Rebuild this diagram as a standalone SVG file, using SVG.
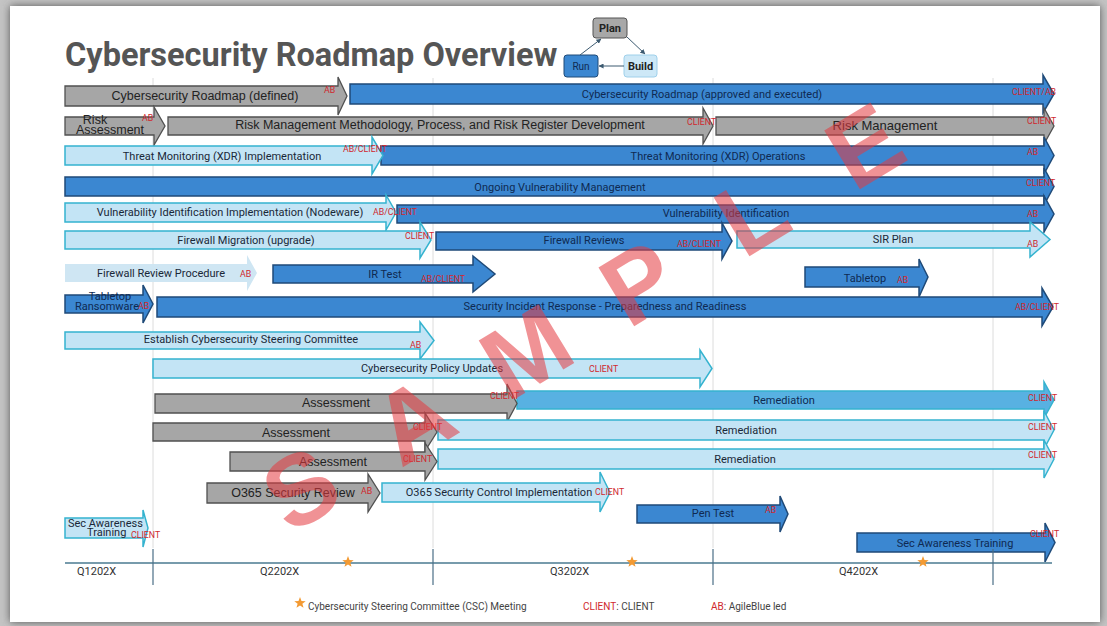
<svg xmlns="http://www.w3.org/2000/svg" width="1107" height="626" viewBox="0 0 1107 626">
<defs>
<filter id="sh" x="-5%" y="-5%" width="110%" height="110%"><feGaussianBlur stdDeviation="4"/></filter>
<marker id="ah" viewBox="0 0 6 6" refX="5.5" refY="3" markerWidth="5" markerHeight="5" orient="auto"><path d="M0 0L6 3L0 6Z" fill="#3c5a70"/></marker>
<path id="star" d="M0 -6L1.47 -2.02L5.71 -1.85L2.38 0.77L3.53 4.85L0 2.5L-3.53 4.85L-2.38 0.77L-5.71 -1.85L-1.47 -2.02Z" fill="#f39a33"/>
</defs>
<style>
.g{fill:#a6a6a6;stroke:#505050;stroke-width:1.3}
.d{fill:#3b87d1;stroke:#1f4a78;stroke-width:1.5}
.l{fill:#c3e4f5;stroke:#35b3cf;stroke-width:1.5}
.m{fill:#58b1e2;stroke:#35b3cf;stroke-width:1.5}
.p{fill:#cfe6f3}
.gt{font-family:"Liberation Sans",Arial,sans-serif;font-size:12.5px;fill:#222;text-anchor:middle}
.dt{font-family:Roboto,"Noto Sans",sans-serif;font-size:11px;fill:#0f2a52;text-anchor:middle}
.lt{font-family:Roboto,"Noto Sans",sans-serif;font-size:11px;fill:#1a2838;text-anchor:middle}
.r{font-family:Roboto,"Noto Sans",sans-serif;font-size:8.8px;fill:#d0282e}
.q{font-family:Roboto,"Noto Sans",sans-serif;font-size:11px;fill:#333}
.lg{font-family:Roboto,"Noto Sans",sans-serif;font-size:10px;fill:#444}
.grid{stroke:#dcdcdc;stroke-width:1}
.tick{stroke:#4a6e86;stroke-width:1.2}
</style>
<rect width="1107" height="626" fill="#c4c4c4"/>
<rect x="10" y="6" width="1090" height="616" fill="#555" filter="url(#sh)"/>
<rect x="10" y="6" width="1090" height="616" fill="#ffffff"/>

<text x="65" y="66" font-family="Roboto,'Noto Sans',sans-serif" font-weight="bold" font-size="32.5" fill="#555">Cybersecurity Roadmap Overview</text>

<g id="grid">
<line class="grid" x1="153" y1="78" x2="153" y2="548"/>
<line class="grid" x1="433" y1="78" x2="433" y2="548"/>
<line class="grid" x1="713" y1="78" x2="713" y2="548"/>
<line class="grid" x1="993" y1="78" x2="993" y2="548"/>
</g>

<g id="mini-plan"><rect x="593" y="18" width="34" height="20" rx="3" fill="#a8a8a8" stroke="#555" stroke-width="1"/><text x="610" y="32" text-anchor="middle" font-family="Roboto,sans-serif" font-weight="bold" font-size="11" fill="#222">Plan</text></g>
<g id="mini-run"><rect x="564" y="55" width="34" height="22" rx="3" fill="#3b87d1" stroke="#1f4a78" stroke-width="1"/><text x="581" y="70" text-anchor="middle" font-family="Roboto,sans-serif" font-size="10" fill="#0f2a52">Run</text></g>
<g id="mini-build"><rect x="624" y="55" width="33" height="22" rx="3" fill="#cde8f7" stroke="#9fd0ea" stroke-width="1"/><text x="640.5" y="70" text-anchor="middle" font-family="Roboto,sans-serif" font-weight="bold" font-size="11" fill="#222">Build</text></g>

<g id="connectors" stroke="#3c5a70" stroke-width="1" fill="none">
<line x1="580" y1="55" x2="601" y2="39" marker-end="url(#ah)"/>
<line x1="627" y1="37" x2="645" y2="54" marker-end="url(#ah)"/>
<line x1="624" y1="66" x2="599" y2="66" marker-end="url(#ah)"/>
</g>

<g id="row1">
<g id="roadmap-exec"><path class="d" d="M350 84H1043V75L1054 94L1043 113V104H350Z"/><text class="dt" x="702" y="98">Cybersecurity Roadmap (approved and executed)</text><text class="r" x="1012" y="95">CLIENT/AB</text></g>
<g id="roadmap-def"><path class="g" d="M65 86H338V77L347 96L338 115V106H65Z"/><text class="gt" x="205" y="100">Cybersecurity Roadmap (defined)</text><text class="r" x="324" y="93">AB</text></g>
</g>

<g id="row2">
<g id="risk-mgmt"><path class="g" d="M716 117H1044V108L1054 126L1044 144V135H716Z"/><text class="gt" x="885" y="130" style="font-size:13px">Risk Management</text><text class="r" x="1027" y="124">CLIENT</text></g>
<g id="risk-method"><path class="g" d="M168 117H703V108L713 126L703 144V135H168Z"/><text class="gt" x="440" y="129">Risk Management Methodology, Process, and Risk Register Development</text><text class="r" x="687" y="125">CLIENT</text></g>
<g id="risk-assess"><path class="g" d="M65 117H154V107L165 126L154 145V135H65Z"/><text class="gt" x="95" y="124">Risk</text><text class="gt" x="110" y="134">Assessment</text><text class="r" x="142" y="121">AB</text></g>
</g>

<g id="row3">
<g id="xdr-ops"><path class="d" d="M381 146H1044V137L1054 155.5L1044 174V165H381Z"/><text class="dt" x="718" y="160">Threat Monitoring (XDR) Operations</text><text class="r" x="1027" y="155">AB</text></g>
<g id="xdr-impl"><path class="l" d="M65 146H372V137L383 155.5L372 174V165H65Z"/><text class="lt" x="222" y="160">Threat Monitoring (XDR) Implementation</text><text class="r" x="343" y="152">AB/CLIENT</text></g>
</g>

<g id="row4">
<g id="vuln-mgmt"><path class="d" d="M65 177H1044V168L1054 186.5L1044 205V196H65Z"/><text class="dt" x="560" y="191">Ongoing Vulnerability Management</text><text class="r" x="1026" y="186">CLIENT</text></g>
</g>

<g id="row5">
<g id="vuln-id"><path class="d" d="M397 205H1044V196L1054 214L1044 232V223H397Z"/><text class="dt" x="726" y="217">Vulnerability Identification</text><text class="r" x="1027" y="217">AB</text></g>
<g id="vuln-impl"><path class="l" d="M65 203H386V195L396 212.5L386 230V222H65Z"/><text class="lt" x="230" y="216">Vulnerability Identification Implementation (Nodeware)</text><text class="r" x="373" y="215">AB/CLIENT</text></g>
</g>

<g id="row6">
<g id="sir-plan"><path class="l" d="M737 231H1030V222L1050 239.5L1030 257V248H737Z"/><text class="lt" x="893" y="243">SIR Plan</text><text class="r" x="1027" y="247">AB</text></g>
<g id="fw-reviews"><path class="d" d="M436 232H722V223L732 241L722 259V250H436Z"/><text class="dt" x="584" y="244">Firewall Reviews</text><text class="r" x="677" y="247">AB/CLIENT</text></g>
<g id="fw-migration"><path class="l" d="M65 231H420V222L431 240L420 258V249H65Z"/><text class="lt" x="246" y="244">Firewall Migration (upgrade)</text><text class="r" x="405" y="239">CLIENT</text></g>
</g>

<g id="row7">
<g id="fw-procedure"><path class="p" d="M65 264H247V255L257 273L247 291V282H65Z"/><text class="lt" x="161" y="277">Firewall Review Procedure</text><text class="r" x="240" y="277">AB</text></g>
<g id="ir-test"><path class="d" d="M273 265H473V256L495 274L473 292V283H273Z"/><text class="dt" x="385" y="278">IR Test</text><text class="r" x="421" y="282">AB/CLIENT</text></g>
<g id="tabletop"><path class="d" d="M805 267H919V259L928 277L919 297V287H805Z"/><text class="dt" x="865" y="282">Tabletop</text><text class="r" x="897" y="283">AB</text></g>
</g>

<g id="row8">
<g id="sir"><path class="d" d="M157 297H1042V288L1053 307L1042 326V317H157Z"/><text class="dt" x="605" y="310">Security Incident Response - Preparedness and Readiness</text><text class="r" x="1015" y="310">AB/CLIENT</text></g>
<g id="tabletop-ransom"><path class="d" d="M65 295H143V285L153 304L143 323V313H65Z"/><text class="dt" x="110" y="300">Tabletop</text><text class="dt" x="107" y="310">Ransomware</text><text class="r" x="138" y="309">AB</text></g>
</g>

<g id="row9">
<g id="csc"><path class="l" d="M65 332H420V322L434 340.5L420 359V349H65Z"/><text class="lt" x="251" y="343">Establish Cybersecurity Steering Committee</text><text class="r" x="410" y="348">AB</text></g>
</g>

<g id="row10">
<g id="policy"><path class="l" d="M153 359H700V350L712 368.5L700 387V378H153Z"/><text class="lt" x="432" y="372">Cybersecurity Policy Updates</text><text class="r" x="589" y="372">CLIENT</text></g>
</g>

<g id="row11">
<g id="remed1"><path class="m" d="M517 391H1044V382L1054 400L1044 418V409H517Z"/><text class="dt" x="784" y="404">Remediation</text><text class="r" x="1028" y="401">CLIENT</text></g>
<g id="assess1"><path class="g" d="M155 394H507V384L517 403.5L507 422V413H155Z"/><text class="gt" x="336" y="407">Assessment</text><text class="r" x="490" y="399">CLIENT</text></g>
</g>

<g id="row12">
<g id="remed2"><path class="l" d="M438 420H1044V411L1054 430L1044 449V440H438Z"/><text class="lt" x="746" y="434">Remediation</text><text class="r" x="1028" y="430">CLIENT</text></g>
<g id="assess2"><path class="g" d="M153 423H425V413L437 432L425 451V441H153Z"/><text class="gt" x="296" y="437">Assessment</text><text class="r" x="413" y="430">CLIENT</text></g>
</g>

<g id="row13">
<g id="remed3"><path class="l" d="M438 449H1044V440L1054 459L1044 478V469H438Z"/><text class="lt" x="745" y="463">Remediation</text><text class="r" x="1028" y="458">CLIENT</text></g>
<g id="assess3"><path class="g" d="M230 452H425V443L437 461.5L425 480V471H230Z"/><text class="gt" x="333" y="466">Assessment</text><text class="r" x="403" y="462">CLIENT</text></g>
</g>

<g id="row14">
<g id="o365-impl"><path class="l" d="M382 483H600V472L610 492.5L600 512V502H382Z"/><text class="lt" x="499" y="496">O365 Security Control Implementation</text><text class="r" x="595" y="495">CLIENT</text></g>
<g id="o365-review"><path class="g" d="M207 483H368V474L380 493L368 512V503H207Z"/><text class="gt" x="293" y="497">O365 Security Review</text><text class="r" x="361" y="494">AB</text></g>
</g>

<g id="row15">
<g id="pentest"><path class="d" d="M637 505H780V496L788 514L780 532V523H637Z"/><text class="dt" x="713" y="517">Pen Test</text><text class="r" x="765" y="513">AB</text></g>
</g>

<g id="row16">
<g id="sat1"><path class="l" d="M65 518H143V510L148 528L143 547V538H65Z"/><text class="lt" x="68" y="527" style="text-anchor:start">Sec Awareness</text><text class="lt" x="87" y="536" style="text-anchor:start">Training</text><text class="r" x="131" y="538">CLIENT</text></g>
</g>

<g id="row17">
<g id="sat2"><path class="d" d="M857 533H1045V523L1055 542.5L1045 562V552H857Z"/><text class="dt" x="955" y="547">Sec Awareness Training</text><text class="r" x="1030" y="537">CLIENT</text></g>
</g>

<g id="timeline">
<line x1="65" y1="563" x2="1052" y2="563" stroke="#4a7a90" stroke-width="1.3"/>
<line class="tick" x1="153" y1="549" x2="153" y2="585"/>
<line class="tick" x1="433" y1="549" x2="433" y2="585"/>
<line class="tick" x1="713" y1="549" x2="713" y2="585"/>
<line class="tick" x1="993" y1="549" x2="993" y2="585"/>
<text class="q" x="77" y="575">Q1202X</text>
<text class="q" x="260" y="575">Q2202X</text>
<text class="q" x="550" y="575">Q3202X</text>
<text class="q" x="839" y="575">Q4202X</text>
<use href="#star" x="348" y="562"/>
<use href="#star" x="632" y="562"/>
<use href="#star" x="923" y="562"/>
</g>

<g id="legend">
<use href="#star" x="300" y="603"/>
<text class="lg" x="308" y="610">Cybersecurity Steering Committee (CSC) Meeting</text>
<text class="lg" x="583" y="610"><tspan fill="#d0282e">CLIENT</tspan>: CLIENT</text>
<text class="lg" x="711" y="610"><tspan fill="#d0282e">AB</tspan>: AgileBlue led</text>
</g>

<g id="watermark" transform="translate(582 316) rotate(-31.3)" opacity="0.55">
<text x="-330 -198 -66 66 198 330" y="36" text-anchor="middle" font-family="'Liberation Sans',Arial,sans-serif" font-weight="bold" font-size="100" fill="#e53a40">SAMPLE</text>
</g>
</svg>
